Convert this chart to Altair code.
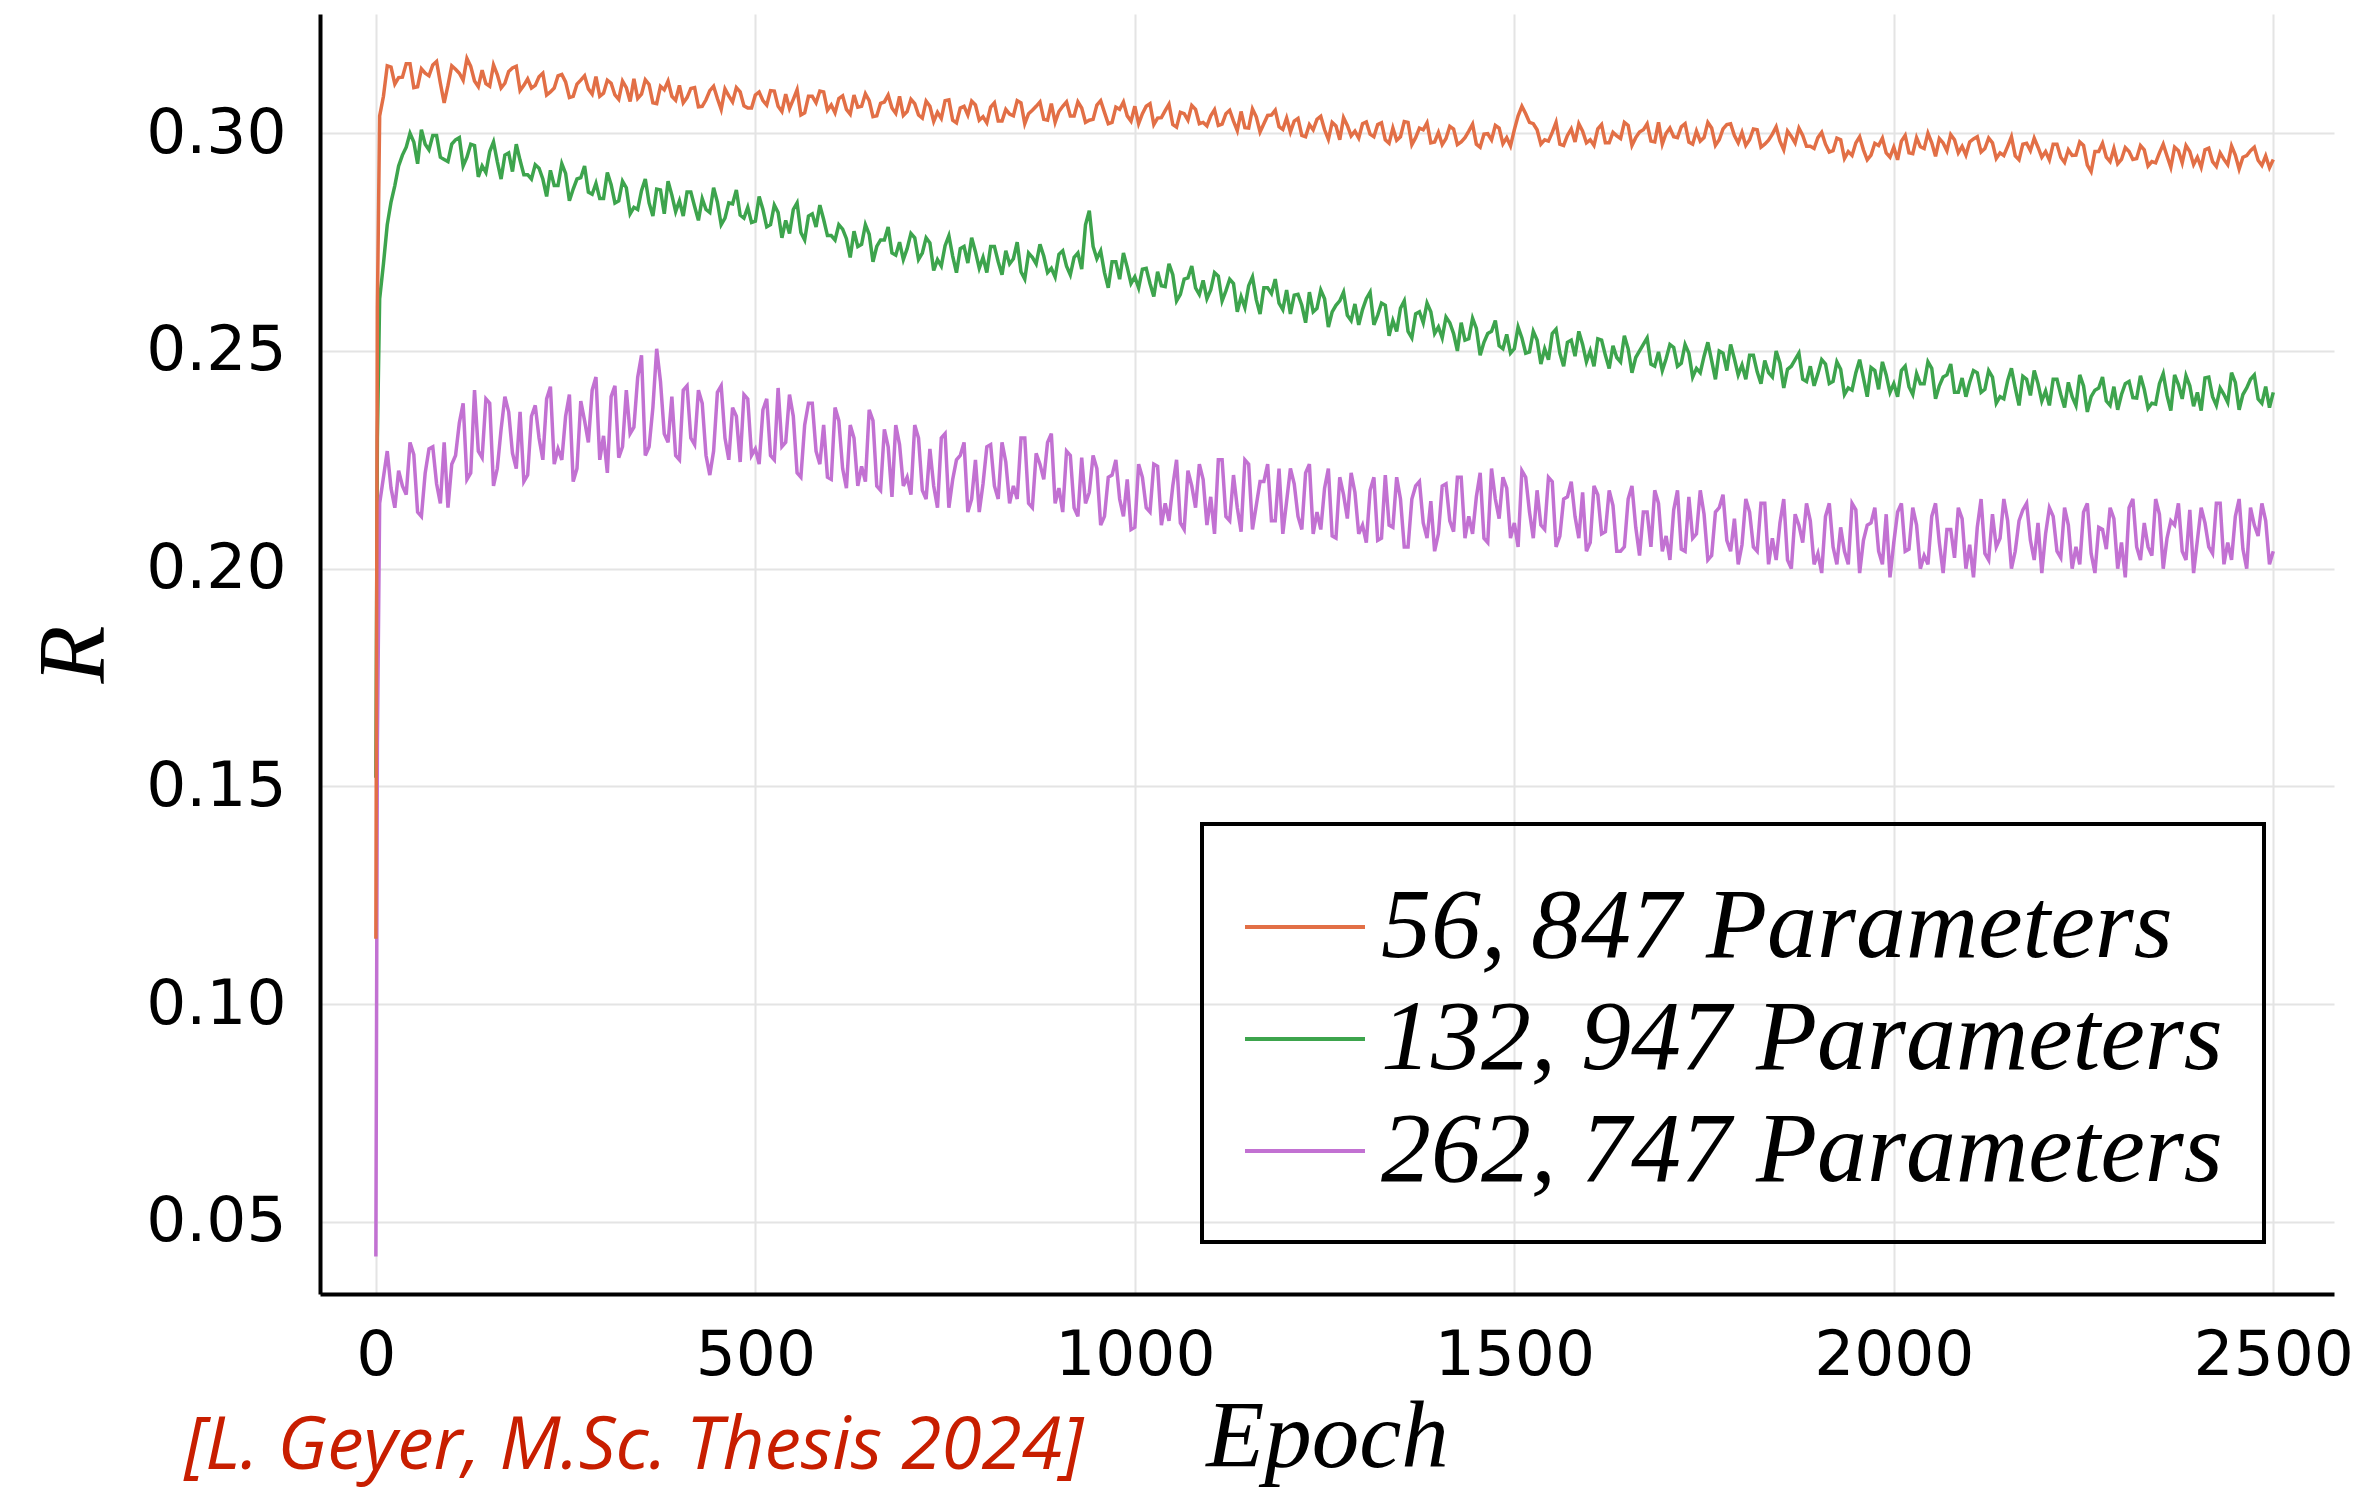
import altair as alt
import pandas as pd

# ---------------- data ----------------
series_names = ["56, 847 Parameters", "132, 947 Parameters", "262, 747 Parameters"]
series_colors = ["#e26f46", "#3da44d", "#c271d2"]

# values at epochs 0, 2, 5, 10, 20, ..., 2500
epochs_main = [0, 2, 5] + list(range(10, 2501, 10))
# values at epochs 15, 25, ..., 2495
epochs_mid = list(range(15, 2500, 10))

r_small = [
    0.1150, 0.2600, 0.3040,
    0.3085, 0.3152, 0.3128, 0.3160, 0.3105, 0.3148, 0.3132, 0.3165, 0.3070, 0.3155,
    0.3138, 0.3172, 0.3120, 0.3145, 0.3108, 0.3135, 0.3115, 0.3150, 0.3098, 0.3125,
    0.3110, 0.3138, 0.3095, 0.3132, 0.3118, 0.3085, 0.3122, 0.3102, 0.3130, 0.3092,
    0.3115, 0.3078, 0.3105, 0.3125, 0.3090, 0.3112, 0.3068, 0.3100, 0.3085, 0.3110,
    0.3082, 0.3105, 0.3062, 0.3098, 0.3080, 0.3102, 0.3072, 0.3095, 0.3058, 0.3088,
    0.3075, 0.3098, 0.3062, 0.3090, 0.3078, 0.3042, 0.3085, 0.3070, 0.3095, 0.3065,
    0.3080, 0.3055, 0.3088, 0.3062, 0.3075, 0.3040, 0.3072, 0.3058, 0.3085, 0.3050,
    0.3068, 0.3035, 0.3062, 0.3048, 0.3075, 0.3030, 0.3058, 0.3042, 0.3065, 0.3038,
    0.3060, 0.3028, 0.3055, 0.3040, 0.3070, 0.3045, 0.3062, 0.3032, 0.3068, 0.3050,
    0.3072, 0.3040, 0.3058, 0.3030, 0.3065, 0.3048, 0.3025, 0.3055, 0.3040, 0.3062,
    0.3045, 0.3068, 0.3035, 0.3052, 0.3020, 0.3048, 0.3030, 0.3055, 0.3025, 0.3040,
    0.3018, 0.3045, 0.3028, 0.3050, 0.3012, 0.3038, 0.3022, 0.3042, 0.3015, 0.3035,
    0.3028, 0.2995, 0.3020, 0.3032, 0.3008, 0.3025, 0.2985, 0.3018, 0.3005, 0.3022,
    0.2998, 0.3020, 0.2985, 0.3012, 0.2992, 0.3025, 0.2990, 0.3008, 0.2978, 0.3002,
    0.2988, 0.3010, 0.2980, 0.3005, 0.2975, 0.2998, 0.2985, 0.3012, 0.2990, 0.3008,
    0.3062, 0.3025, 0.3008, 0.2985, 0.3002, 0.2975, 0.2995, 0.2980, 0.3005, 0.2985,
    0.3010, 0.2978, 0.3002, 0.2988, 0.3018, 0.2990, 0.3008, 0.2982, 0.3025, 0.3000,
    0.2992, 0.3015, 0.2980, 0.3005, 0.2990, 0.3012, 0.2985, 0.3020, 0.2995, 0.3002,
    0.2985, 0.3008, 0.2975, 0.2998, 0.2982, 0.3005, 0.2978, 0.2995, 0.2970, 0.2990,
    0.2975, 0.2960, 0.2985, 0.2958, 0.2978, 0.2962, 0.2950, 0.2972, 0.2955, 0.2968,
    0.2982, 0.2955, 0.2990, 0.2965, 0.2978, 0.2988, 0.2960, 0.2985, 0.2970, 0.2980,
    0.2992, 0.2965, 0.2978, 0.2955, 0.2970, 0.2948, 0.2975, 0.2960, 0.2968, 0.2958,
    0.2975, 0.2945, 0.2962, 0.2950, 0.2972, 0.2912, 0.2958, 0.2945, 0.2965, 0.2940,
    0.2958, 0.2942, 0.2962, 0.2935, 0.2955, 0.2948, 0.2968, 0.2932, 0.2958, 0.2945,
    0.2962, 0.2935, 0.2955, 0.2928, 0.2950, 0.2945, 0.2960, 0.2938, 0.2948, 0.2940,
]
r_small_mid = [
    0.3155, 0.3113, 0.3129, 0.3160, 0.3107, 0.3138, 0.3157, 0.3115, 0.3110, 0.3147,
    0.3122, 0.3154, 0.3107, 0.3114, 0.3157, 0.3104, 0.3142, 0.3154, 0.3110, 0.3104,
    0.3130, 0.3088, 0.3104, 0.3135, 0.3082, 0.3113, 0.3132, 0.3090, 0.3085, 0.3122,
    0.3088, 0.3120, 0.3073, 0.3080, 0.3123, 0.3070, 0.3108, 0.3120, 0.3076, 0.3070,
    0.3103, 0.3061, 0.3077, 0.3108, 0.3055, 0.3086, 0.3105, 0.3063, 0.3058, 0.3095,
    0.3065, 0.3097, 0.3050, 0.3057, 0.3100, 0.3047, 0.3085, 0.3097, 0.3053, 0.3047,
    0.3086, 0.3044, 0.3060, 0.3091, 0.3038, 0.3069, 0.3088, 0.3046, 0.3041, 0.3078,
    0.3042, 0.3074, 0.3027, 0.3034, 0.3077, 0.3024, 0.3062, 0.3074, 0.3030, 0.3024,
    0.3070, 0.3028, 0.3044, 0.3075, 0.3022, 0.3053, 0.3072, 0.3030, 0.3025, 0.3062,
    0.3040, 0.3072, 0.3025, 0.3032, 0.3075, 0.3022, 0.3060, 0.3072, 0.3028, 0.3022,
    0.3062, 0.3020, 0.3036, 0.3067, 0.3014, 0.3045, 0.3064, 0.3022, 0.3017, 0.3054,
    0.3021, 0.3053, 0.3006, 0.3013, 0.3056, 0.3003, 0.3041, 0.3053, 0.3009, 0.3003,
    0.3034, 0.2992, 0.3008, 0.3039, 0.2986, 0.3017, 0.3036, 0.2994, 0.2989, 0.3026,
    0.2992, 0.3024, 0.2977, 0.2984, 0.3027, 0.2974, 0.3012, 0.3024, 0.2980, 0.2974,
    0.3016, 0.2974, 0.2990, 0.3021, 0.2968, 0.2999, 0.3018, 0.2976, 0.2971, 0.3040,
    0.3045, 0.3022, 0.2975, 0.2982, 0.3025, 0.2972, 0.3010, 0.3022, 0.2978, 0.2972,
    0.3020, 0.2978, 0.2994, 0.3025, 0.2972, 0.3003, 0.3022, 0.2980, 0.2975, 0.3012,
    0.2990, 0.3022, 0.2975, 0.2982, 0.3025, 0.2972, 0.3010, 0.3022, 0.2978, 0.2972,
    0.3010, 0.2968, 0.2984, 0.3015, 0.2962, 0.2993, 0.3012, 0.2970, 0.2965, 0.3002,
    0.2957, 0.2989, 0.2942, 0.2949, 0.2992, 0.2939, 0.2977, 0.2989, 0.2945, 0.2939,
    0.2995, 0.2953, 0.2969, 0.3000, 0.2947, 0.2978, 0.2997, 0.2955, 0.2950, 0.2987,
    0.2957, 0.2989, 0.2942, 0.2949, 0.2992, 0.2939, 0.2977, 0.2989, 0.2945, 0.2939,
    0.2975, 0.2933, 0.2949, 0.2980, 0.2927, 0.2958, 0.2977, 0.2935, 0.2930, 0.2967,
    0.2940, 0.2972, 0.2925, 0.2932, 0.2975, 0.2922, 0.2960, 0.2972, 0.2928, 0.2922,
    0.2966, 0.2924, 0.2940, 0.2971, 0.2918, 0.2949, 0.2968, 0.2926, 0.2921,
]

r_medium = [
    0.1520, 0.2300, 0.2620,
    0.2700, 0.2842, 0.2925, 0.2968, 0.2980, 0.3008, 0.2962, 0.2995, 0.2940, 0.2975,
    0.2990, 0.2945, 0.2972, 0.2925, 0.2958, 0.2935, 0.2950, 0.2912, 0.2938, 0.2905,
    0.2928, 0.2895, 0.2915, 0.2880, 0.2908, 0.2872, 0.2898, 0.2865, 0.2885, 0.2850,
    0.2882, 0.2845, 0.2875, 0.2830, 0.2868, 0.2840, 0.2872, 0.2815, 0.2858, 0.2845,
    0.2865, 0.2832, 0.2850, 0.2818, 0.2842, 0.2805, 0.2838, 0.2812, 0.2830, 0.2798,
    0.2825, 0.2790, 0.2818, 0.2800, 0.2825, 0.2772, 0.2810, 0.2785, 0.2802, 0.2765,
    0.2790, 0.2758, 0.2775, 0.2745, 0.2768, 0.2740, 0.2755, 0.2725, 0.2750, 0.2735,
    0.2760, 0.2725, 0.2748, 0.2710, 0.2742, 0.2718, 0.2735, 0.2702, 0.2728, 0.2715,
    0.2740, 0.2705, 0.2730, 0.2712, 0.2682, 0.2725, 0.2700, 0.2718, 0.2690, 0.2722,
    0.2695, 0.2715, 0.2688, 0.2822, 0.2712, 0.2680, 0.2705, 0.2665, 0.2692, 0.2670,
    0.2688, 0.2655, 0.2682, 0.2648, 0.2675, 0.2630, 0.2668, 0.2645, 0.2662, 0.2640,
    0.2672, 0.2638, 0.2655, 0.2625, 0.2650, 0.2618, 0.2645, 0.2632, 0.2610, 0.2640,
    0.2628, 0.2605, 0.2635, 0.2598, 0.2620, 0.2590, 0.2615, 0.2582, 0.2608, 0.2595,
    0.2635, 0.2582, 0.2605, 0.2570, 0.2598, 0.2545, 0.2585, 0.2565, 0.2590, 0.2555,
    0.2578, 0.2540, 0.2565, 0.2528, 0.2552, 0.2520, 0.2545, 0.2512, 0.2538, 0.2505,
    0.2530, 0.2498, 0.2525, 0.2505, 0.2540, 0.2495, 0.2520, 0.2488, 0.2515, 0.2500,
    0.2528, 0.2490, 0.2512, 0.2475, 0.2505, 0.2485, 0.2515, 0.2470, 0.2498, 0.2482,
    0.2508, 0.2472, 0.2495, 0.2460, 0.2488, 0.2478, 0.2500, 0.2455, 0.2482, 0.2468,
    0.2490, 0.2452, 0.2478, 0.2440, 0.2472, 0.2458, 0.2480, 0.2435, 0.2465, 0.2448,
    0.2470, 0.2430, 0.2458, 0.2415, 0.2450, 0.2438, 0.2462, 0.2412, 0.2445, 0.2425,
    0.2455, 0.2418, 0.2448, 0.2425, 0.2460, 0.2420, 0.2445, 0.2405, 0.2438, 0.2428,
    0.2450, 0.2412, 0.2440, 0.2395, 0.2432, 0.2415, 0.2442, 0.2398, 0.2425, 0.2408,
    0.2435, 0.2400, 0.2428, 0.2375, 0.2420, 0.2395, 0.2415, 0.2385, 0.2418, 0.2400,
    0.2430, 0.2392, 0.2412, 0.2380, 0.2425, 0.2398, 0.2445, 0.2390, 0.2420, 0.2405,
    0.2438, 0.2395, 0.2415, 0.2382, 0.2428, 0.2400, 0.2435, 0.2390, 0.2418, 0.2405,
]
r_medium_mid = [
    0.2790, 0.2880, 0.2950, 0.3000, 0.2930, 0.2975, 0.2995, 0.2945, 0.2935, 0.2985,
    0.2925, 0.2975, 0.2900, 0.2910, 0.2980, 0.2895, 0.2955, 0.2975, 0.2905, 0.2895,
    0.2920, 0.2855, 0.2880, 0.2930, 0.2845, 0.2895, 0.2925, 0.2860, 0.2850, 0.2910,
    0.2840, 0.2890, 0.2815, 0.2825, 0.2895, 0.2810, 0.2870, 0.2890, 0.2820, 0.2810,
    0.2865, 0.2800, 0.2825, 0.2875, 0.2790, 0.2840, 0.2870, 0.2805, 0.2795, 0.2855,
    0.2785, 0.2835, 0.2760, 0.2770, 0.2840, 0.2755, 0.2815, 0.2835, 0.2765, 0.2755,
    0.2780, 0.2715, 0.2740, 0.2790, 0.2705, 0.2755, 0.2785, 0.2720, 0.2710, 0.2770,
    0.2710, 0.2760, 0.2685, 0.2695, 0.2765, 0.2680, 0.2740, 0.2760, 0.2690, 0.2680,
    0.2740, 0.2675, 0.2700, 0.2750, 0.2665, 0.2715, 0.2745, 0.2680, 0.2670, 0.2730,
    0.2675, 0.2725, 0.2790, 0.2740, 0.2730, 0.2645, 0.2705, 0.2725, 0.2655, 0.2645,
    0.2690, 0.2625, 0.2650, 0.2700, 0.2615, 0.2665, 0.2695, 0.2630, 0.2620, 0.2680,
    0.2615, 0.2665, 0.2590, 0.2600, 0.2670, 0.2585, 0.2645, 0.2665, 0.2595, 0.2585,
    0.2630, 0.2565, 0.2590, 0.2640, 0.2555, 0.2605, 0.2635, 0.2570, 0.2560, 0.2620,
    0.2560, 0.2610, 0.2535, 0.2545, 0.2615, 0.2530, 0.2590, 0.2610, 0.2540, 0.2530,
    0.2565, 0.2500, 0.2525, 0.2575, 0.2490, 0.2540, 0.2570, 0.2505, 0.2495, 0.2555,
    0.2495, 0.2545, 0.2470, 0.2480, 0.2550, 0.2465, 0.2525, 0.2545, 0.2475, 0.2465,
    0.2525, 0.2460, 0.2485, 0.2535, 0.2450, 0.2500, 0.2530, 0.2465, 0.2455, 0.2515,
    0.2465, 0.2515, 0.2440, 0.2450, 0.2520, 0.2435, 0.2495, 0.2515, 0.2445, 0.2435,
    0.2490, 0.2425, 0.2450, 0.2500, 0.2415, 0.2465, 0.2495, 0.2430, 0.2420, 0.2480,
    0.2425, 0.2475, 0.2400, 0.2410, 0.2480, 0.2395, 0.2455, 0.2475, 0.2405, 0.2395,
    0.2465, 0.2400, 0.2425, 0.2475, 0.2390, 0.2440, 0.2470, 0.2405, 0.2395, 0.2455,
    0.2405, 0.2455, 0.2380, 0.2390, 0.2460, 0.2375, 0.2435, 0.2455, 0.2385, 0.2375,
    0.2435, 0.2370, 0.2395, 0.2445, 0.2360, 0.2410, 0.2440, 0.2375, 0.2365, 0.2425,
    0.2393, 0.2443, 0.2368, 0.2378, 0.2448, 0.2363, 0.2423, 0.2443, 0.2373, 0.2363,
    0.2440, 0.2375, 0.2400, 0.2450, 0.2365, 0.2415, 0.2445, 0.2380, 0.2370,
]

r_large = [
    0.0420, 0.1600, 0.2150,
    0.2210, 0.2185, 0.2225, 0.2170, 0.2262, 0.2120, 0.2275, 0.2195, 0.2290, 0.2240,
    0.2335, 0.2205, 0.2410, 0.2255, 0.2380, 0.2230, 0.2395, 0.2265, 0.2360, 0.2215,
    0.2375, 0.2250, 0.2418, 0.2275, 0.2350, 0.2200, 0.2385, 0.2290, 0.2440, 0.2305,
    0.2395, 0.2255, 0.2410, 0.2325, 0.2490, 0.2280, 0.2505, 0.2310, 0.2395, 0.2250,
    0.2420, 0.2285, 0.2380, 0.2215, 0.2405, 0.2300, 0.2370, 0.2245, 0.2390, 0.2275,
    0.2365, 0.2260, 0.2415, 0.2290, 0.2350, 0.2210, 0.2380, 0.2270, 0.2330, 0.2205,
    0.2340, 0.2185, 0.2300, 0.2235, 0.2365, 0.2190, 0.2320, 0.2165, 0.2285, 0.2210,
    0.2330, 0.2180, 0.2275, 0.2140, 0.2310, 0.2205, 0.2260, 0.2130, 0.2250, 0.2195,
    0.2285, 0.2160, 0.2245, 0.2190, 0.2300, 0.2150, 0.2265, 0.2205, 0.2310, 0.2185,
    0.2270, 0.2140, 0.2255, 0.2175, 0.2230, 0.2120, 0.2215, 0.2160, 0.2205, 0.2095,
    0.2210, 0.2130, 0.2235, 0.2150, 0.2190, 0.2105, 0.2225, 0.2140, 0.2205, 0.2165,
    0.2250, 0.2120, 0.2215, 0.2085, 0.2240, 0.2145, 0.2200, 0.2110, 0.2230, 0.2155,
    0.2195, 0.2090, 0.2240, 0.2130, 0.2185, 0.2075, 0.2210, 0.2115, 0.2175, 0.2100,
    0.2180, 0.2065, 0.2215, 0.2095, 0.2160, 0.2050, 0.2190, 0.2105, 0.2155, 0.2080,
    0.2195, 0.2085, 0.2210, 0.2120, 0.2165, 0.2070, 0.2230, 0.2115, 0.2185, 0.2105,
    0.2225, 0.2130, 0.2180, 0.2090, 0.2200, 0.2075, 0.2165, 0.2120, 0.2175, 0.2060,
    0.2170, 0.2085, 0.2145, 0.2040, 0.2160, 0.2095, 0.2130, 0.2050, 0.2150, 0.2075,
    0.2135, 0.2045, 0.2165, 0.2080, 0.2125, 0.2030, 0.2140, 0.2065, 0.2115, 0.2055,
    0.2130, 0.2040, 0.2150, 0.2070, 0.2105, 0.2020, 0.2125, 0.2060, 0.2110, 0.2035,
    0.2120, 0.2050, 0.2095, 0.2010, 0.2135, 0.2065, 0.2105, 0.2040, 0.2125, 0.2060,
    0.2150, 0.2045, 0.2100, 0.2030, 0.2120, 0.2060, 0.2090, 0.2025, 0.2115, 0.2055,
    0.2095, 0.2035, 0.2125, 0.2070, 0.2110, 0.2040, 0.2135, 0.2065, 0.2105, 0.2080,
    0.2120, 0.2025, 0.2100, 0.2050, 0.2130, 0.2035, 0.2095, 0.2045, 0.2115, 0.2060,
    0.2140, 0.2050, 0.2105, 0.2030, 0.2125, 0.2070, 0.2100, 0.2040, 0.2135, 0.2065,
    0.2105, 0.2035, 0.2150, 0.2060, 0.2120, 0.2045, 0.2140, 0.2075, 0.2110, 0.2040,
]
r_large_mid = [
    0.2270, 0.2140, 0.2190, 0.2290, 0.2130, 0.2220, 0.2280, 0.2150, 0.2140, 0.2260,
    0.2380, 0.2220, 0.2270, 0.2390, 0.2190, 0.2320, 0.2360, 0.2230, 0.2200, 0.2350,
    0.2300, 0.2390, 0.2240, 0.2250, 0.2400, 0.2230, 0.2340, 0.2410, 0.2250, 0.2220,
    0.2420, 0.2280, 0.2310, 0.2440, 0.2260, 0.2370, 0.2430, 0.2290, 0.2260, 0.2410,
    0.2300, 0.2410, 0.2260, 0.2270, 0.2420, 0.2250, 0.2350, 0.2400, 0.2260, 0.2240,
    0.2390, 0.2250, 0.2280, 0.2400, 0.2220, 0.2330, 0.2380, 0.2240, 0.2210, 0.2370,
    0.2230, 0.2330, 0.2190, 0.2200, 0.2340, 0.2180, 0.2280, 0.2330, 0.2190, 0.2170,
    0.2300, 0.2160, 0.2190, 0.2300, 0.2140, 0.2250, 0.2290, 0.2160, 0.2130, 0.2280,
    0.2190, 0.2290, 0.2150, 0.2160, 0.2300, 0.2140, 0.2240, 0.2290, 0.2150, 0.2130,
    0.2260, 0.2120, 0.2150, 0.2260, 0.2100, 0.2210, 0.2250, 0.2120, 0.2090, 0.2240,
    0.2140, 0.2240, 0.2100, 0.2110, 0.2250, 0.2090, 0.2190, 0.2240, 0.2100, 0.2080,
    0.2250, 0.2110, 0.2140, 0.2250, 0.2090, 0.2200, 0.2240, 0.2110, 0.2080, 0.2230,
    0.2120, 0.2220, 0.2080, 0.2090, 0.2230, 0.2070, 0.2170, 0.2220, 0.2080, 0.2060,
    0.2210, 0.2070, 0.2100, 0.2210, 0.2050, 0.2160, 0.2200, 0.2070, 0.2040, 0.2190,
    0.2110, 0.2210, 0.2070, 0.2080, 0.2220, 0.2060, 0.2160, 0.2210, 0.2070, 0.2050,
    0.2210, 0.2070, 0.2100, 0.2210, 0.2050, 0.2160, 0.2200, 0.2070, 0.2040, 0.2190,
    0.2080, 0.2180, 0.2040, 0.2050, 0.2190, 0.2030, 0.2130, 0.2180, 0.2040, 0.2020,
    0.2180, 0.2040, 0.2070, 0.2180, 0.2020, 0.2130, 0.2170, 0.2040, 0.2010, 0.2160,
    0.2050, 0.2150, 0.2010, 0.2020, 0.2160, 0.2000, 0.2100, 0.2150, 0.2010, 0.1990,
    0.2150, 0.2010, 0.2040, 0.2150, 0.1990, 0.2100, 0.2140, 0.2010, 0.1980, 0.2130,
    0.2040, 0.2140, 0.2000, 0.2010, 0.2150, 0.1990, 0.2090, 0.2140, 0.2000, 0.1980,
    0.2160, 0.2020, 0.2050, 0.2160, 0.2000, 0.2110, 0.2150, 0.2020, 0.1990, 0.2140,
    0.2040, 0.2140, 0.2000, 0.2010, 0.2150, 0.1990, 0.2090, 0.2140, 0.2000, 0.1980,
    0.2160, 0.2020, 0.2050, 0.2160, 0.2000, 0.2110, 0.2150, 0.2020, 0.1990, 0.2140,
    0.2050, 0.2150, 0.2010, 0.2020, 0.2160, 0.2000, 0.2100, 0.2150, 0.2010,
]

x_ticks = [0, 500, 1000, 1500, 2000, 2500]
y_ticks = [0.05, 0.10, 0.15, 0.20, 0.25, 0.30]

rows = []
for name, main_vals, mid_vals in zip(
    series_names,
    [r_small, r_medium, r_large],
    [r_small_mid, r_medium_mid, r_large_mid],
):
    for e, v in zip(epochs_main, main_vals):
        rows.append({"Epoch": e, "R": v, "Model": name})
    for e, v in zip(epochs_mid, mid_vals):
        rows.append({"Epoch": e, "R": v, "Model": name})
df = pd.DataFrame(rows).sort_values(["Model", "Epoch"]).reset_index(drop=True)

AXIS_FONT = "DejaVu Sans"
SERIF = "Liberation Serif"

chart = (
    alt.Chart(df)
    .mark_line(strokeWidth=3.5, clip=True)
    .encode(
        x=alt.X(
            "Epoch:Q",
            scale=alt.Scale(domain=[-73.6, 2580], nice=False, zero=False),
            axis=alt.Axis(
                values=x_ticks, format="d", title="Epoch",
                labelPadding=30, titlePadding=4,
            ),
        ),
        y=alt.Y(
            "R:Q",
            scale=alt.Scale(domain=[0.0334, 0.3274], nice=False, zero=False),
            axis=alt.Axis(
                values=y_ticks, format=".2f", title="R",
                labelPadding=34, titlePadding=22,
            ),
        ),
        color=alt.Color(
            "Model:N",
            scale=alt.Scale(domain=series_names, range=series_colors),
            legend=alt.Legend(
                title=None, orient="none", legendX=882, legendY=810,
                symbolType="stroke", symbolSize=14400, symbolStrokeWidth=4,
                labelFont=SERIF, labelFontStyle="italic", labelFontSize=100,
                labelColor="black", labelOffset=14, labelLimit=2000,
                padding=41, rowPadding=-11, strokeColor="black",
            ),
        ),
        order=alt.Order("Epoch:Q"),
    )
    .properties(
        width=2014, height=1280,
        background="white",
        autosize=alt.AutoSizeParams(type="none"),
        padding={"left": 320, "top": 14, "right": 33, "bottom": 196},
        title=alt.TitleParams(
            text="[L. Geyer, M.Sc. Thesis 2024]", orient="bottom", anchor="start",
            frame="group", font="Open Sans", fontStyle="italic", fontWeight="normal",
            fontSize=73, color="#c81e00", dx=-136, dy=-78,
        ),
    )
    .configure_view(stroke=None)
    .configure_axis(
        labelFont=AXIS_FONT, labelFontSize=63, labelColor="black",
        titleFont=SERIF, titleFontStyle="italic", titleFontWeight="normal",
        titleFontSize=95, titleColor="black",
        ticks=False, domainColor="black", domainWidth=4,
        gridColor="#e4e4e4", gridWidth=2,
    )
    .configure_legend(strokeWidth=4)
)

chart.save("out.html", embed_options={"renderer": "svg", "actions": False})
